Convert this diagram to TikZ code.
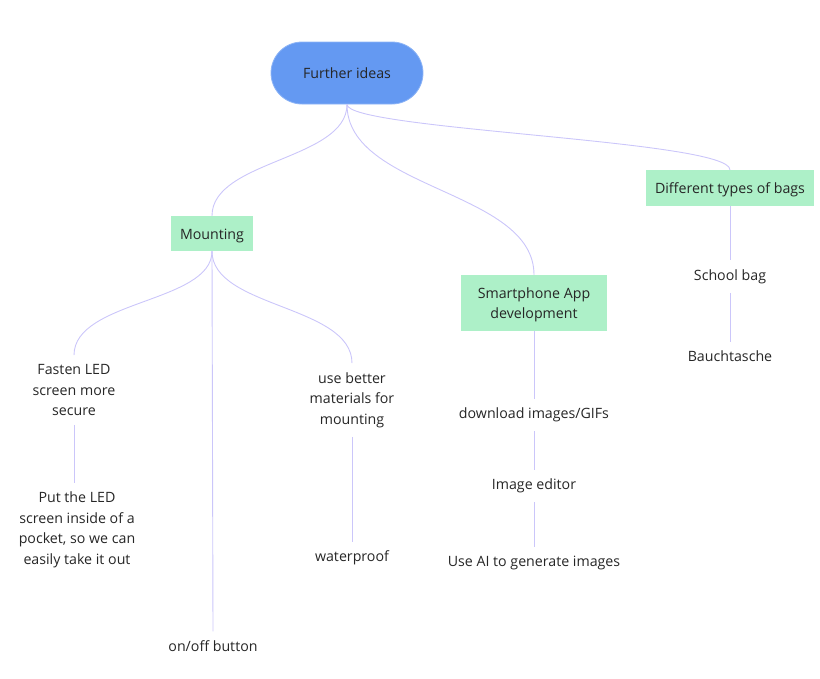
\documentclass[tikz,border=0pt]{standalone}
\usepackage{fontspec}
\setmainfont{Open Sans}
% taller first-line strut, lowers the text inside the filled boxes a little
\newcommand\boxstrut{\rule{0pt}{14.5pt}}
\begin{document}
\begin{tikzpicture}[x=1pt,y=-1pt,
  every node/.style={font=\fontsize{14.2}{20.5}\selectfont, text=black!85},
  rootnode/.style={fill=rootblue, draw=rootedge, line width=0.8pt, rounded corners=31pt,
    minimum width=152pt, minimum height=62pt, inner sep=0pt},
  topic/.style={fill=topicgreen, draw=none, minimum height=35pt, inner xsep=9pt,
    inner ysep=0pt, align=center},
  leaf/.style={align=center, inner xsep=2pt, inner ysep=9pt},
  link/.style={draw=linkviolet, line width=0.9pt},
]
\definecolor{rootblue}{HTML}{6499F2}
\definecolor{rootedge}{HTML}{8DB4F6}
\definecolor{topicgreen}{HTML}{ADF0C8}
\definecolor{linkviolet}{HTML}{CBC6FA}
\useasboundingbox (0,0) rectangle (820,678);

% central idea and main branches
\node[rootnode] (root) at (347,73) {\rule{0pt}{12pt}Further ideas};
\node[topic] (mount) at (212,233.5) {\boxstrut Mounting};
\node[topic, minimum width=146pt, minimum height=56pt] (app) at (534,303) {\boxstrut Smartphone App\\development};
\node[topic, minimum height=36pt] (bags) at (730,188) {\boxstrut Different types of bags};

% mounting sub-ideas
\node[leaf] (fasten) at (74,390) {Fasten LED\\screen more\\secure};
\node[leaf] (pocket) at (77,530) {Put the LED\\screen inside of a\\pocket, so we can\\easily take it out};
\node[leaf] (onoff) at (213,646) {on/off button};
\node[leaf] (better) at (352,400) {use better\\materials for\\mounting};
\node[leaf] (water) at (352,558) {waterproof};

% app sub-ideas
\node[leaf] (dl) at (534,415) {download images/GIFs};
\node[leaf] (editor) at (534,486) {Image editor};
\node[leaf] (ai) at (534,563) {Use AI to generate images};

% bag sub-ideas
\node[leaf] (school) at (730,276.5) {School bag};
\node[leaf] (bauch) at (730,356.5) {Bauchtasche};

% curved branches from the central idea
\draw[link] (root.south) .. controls (347,160) and (212,160) .. (mount.north);
\draw[link] (root.south) .. controls (347,190) and (534,190) .. (app.north);
\draw[link] (root.south) .. controls (347,130) and (730,140) .. (bags.north);

% curved branches below Mounting
\draw[link] (mount.south) .. controls (212,303) and (74,300) .. (fasten.north);
\draw[link] (mount.south) .. controls (212,308) and (352,305) .. (better.north);
\draw[link] (mount.south) -- (onoff.north);

% straight chains
\draw[link] (fasten.south) -- (pocket.north -| fasten.south);
\draw[link] (better.south) -- (water.north);
\draw[link] (app.south) -- (dl.north);
\draw[link] (dl.south) -- (editor.north);
\draw[link] (editor.south) -- (ai.north);
\draw[link] (bags.south) -- (school.north);
\draw[link] (school.south) -- (bauch.north);
\end{tikzpicture}
\end{document}
